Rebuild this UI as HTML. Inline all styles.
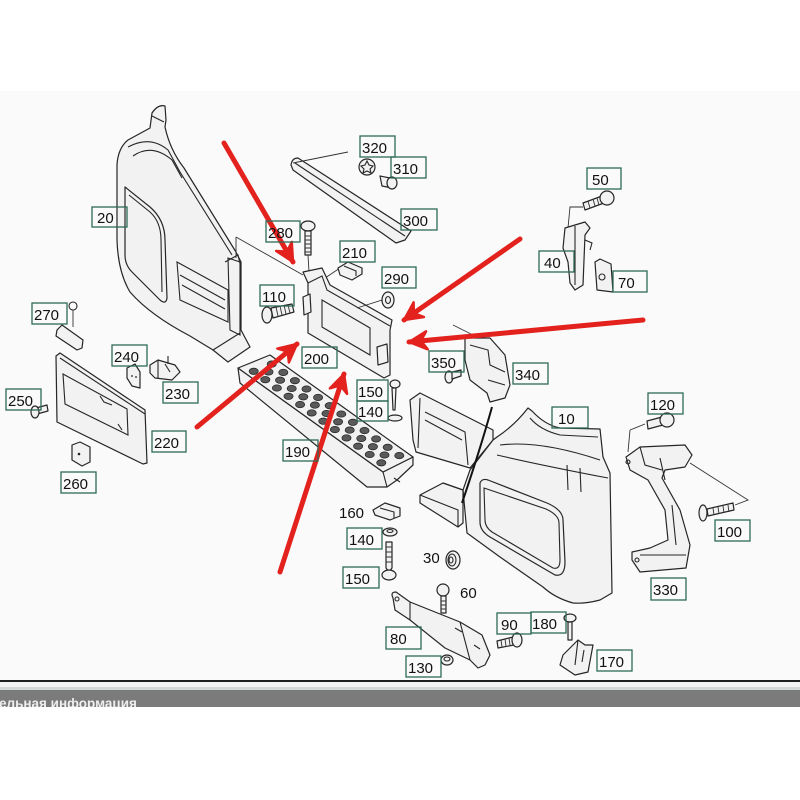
<!DOCTYPE html>
<html><head><meta charset="utf-8"><style>
html,body{margin:0;padding:0;background:#fff}
svg{display:block}
.l{fill:none;stroke:#2e6b55;stroke-width:1.3}
.t{font-family:"Liberation Sans",Arial,sans-serif;font-size:15px;fill:#111}
.p{fill:#f2f2f2;stroke:#262626;stroke-width:1.2;stroke-linejoin:round}
.n{fill:none;stroke:#262626;stroke-width:1.1}
.k{fill:none;stroke:#333;stroke-width:0.9}
.h{fill:#5a5a5a;stroke:#222;stroke-width:0.7}
.a{stroke:#e3221e;stroke-width:5;stroke-linecap:round;fill:none}
</style></head><body>
<svg width="800" height="800" viewBox="0 0 800 800" xmlns="http://www.w3.org/2000/svg">
<defs>
<marker id="ah" viewBox="0 0 24 24" refX="21" refY="12" markerWidth="24" markerHeight="24" orient="auto" markerUnits="userSpaceOnUse">
<path d="M3,3 L21,12 L3,21 L9,12 Z" fill="#e3221e" stroke="#e3221e" stroke-width="2.5" stroke-linejoin="round"/>
</marker>
</defs>
<rect x="0" y="0" width="800" height="800" fill="#fff"/>
<rect x="0" y="91" width="800" height="589" fill="#fafafa"/>

<!-- Part 20 left end -->
<path class="p" d="M150,128 L152,113 Q158,104 165,106 L166,120 L165,127 Q170,150 184,168 L236,252 L241,262 L241,330 L250,347 L228,362 L213,350 L190,336 Q150,315 130,292 Q118,272 117,240 L117,165 Q118,148 128,140 Z"/>
<path class="n" d="M152,116 L164,122 M128,147 Q150,135 168,150 L180,172 L232,255 M133,156 Q152,143 172,160 L182,178"/>
<path class="p" d="M125,187 L150,207 Q165,220 165,240 L167,298 Q166,305 160,300 L132,272 Q125,265 125,255 Z"/>
<path class="n" d="M129,195 L150,212 Q161,222 161,240 L162,292"/>
<path class="n" d="M177,262 L228,290 L228,322 L180,300 Z M180,275 L225,300 M182,285 L225,309"/>
<path class="n" d="M213,350 L240,333 M228,258 L240,262 L240,335 L230,330 Z M225,262 L238,255 L241,268"/>
<path class="k" d="M236,237 L236,258 M236,237 L303,275"/>

<!-- Part 300 strip, 320, 310 -->
<path class="p" d="M291,165 Q292,158 298,158 L411,231 L405,240 L396,243 L293,170 Z"/>
<path class="n" d="M295,163 L405,236"/>
<path class="k" d="M293,163 L348,152"/>
<circle class="p" cx="367" cy="167" r="8"/>
<path class="n" d="M367,161 L369,165 L373,166 L370,169 L371,173 L367,171 L363,173 L364,169 L361,166 L365,165 Z"/>
<path class="p" d="M380,176 L390,178 L392,188 L382,186 Z"/>
<ellipse class="p" cx="392" cy="183" rx="5" ry="6"/>

<!-- 280 screw -->
<ellipse class="p" cx="308" cy="226" rx="7" ry="5"/>
<path class="p" d="M305,231 L311,231 L311,255 L305,255 Z"/>
<path class="k" d="M305,236 L311,236 M305,240 L311,240 M305,244 L311,244 M305,248 L311,248 M305,252 L311,252 M308,255 L309,272"/>

<!-- 210 clip -->
<path class="k" d="M325,278 L340,268"/>
<path class="p" d="M338,268 L348,262 L362,268 L362,274 L352,280 L340,275 Z"/>
<path class="n" d="M344,266 L356,271 L356,276"/>

<!-- 200 bracket -->
<path class="p" d="M303,272 L322,268 L330,285 L392,320 L390,330 L390,375 L384,378 L308,333 L308,283 Z"/>
<path class="n" d="M308,283 L322,276 L327,290 L390,326 M322,300 L370,328 L370,355 L322,327 Z"/>
<path class="p" d="M303,297 L310,294 L311,312 L304,315 Z M377,347 L387,344 L388,362 L378,365 Z"/>

<!-- 290 washer -->
<path class="k" d="M357,308 L382,300"/>
<ellipse class="p" cx="388" cy="300" rx="6" ry="8"/>
<ellipse class="n" cx="388" cy="300" rx="2.5" ry="3.5"/>

<!-- 110 screw -->
<path class="p" d="M271,308 L292,304 L294,312 L273,318 Z"/>
<path class="k" d="M276,307 L278,316 M280,306 L282,315 M284,305 L286,314 M288,305 L290,313"/>
<ellipse class="p" cx="267" cy="315" rx="5" ry="8"/>

<!-- Step 190 -->
<path class="p" d="M238,368 L240,383 L367,487 L387,487 L397,480 L413,465 L413,457 L383,472 Z"/>
<path class="p" d="M238,368 L270,355 L413,457 L383,472 Z"/>
<path class="n" d="M383,472 L387,487 M394,478 L400,482"/>
<g class="h">
<ellipse cx="253.7" cy="371.3" rx="4.6" ry="3.2"/><ellipse cx="265.3" cy="379.7" rx="4.6" ry="3.2"/><ellipse cx="276.9" cy="388" rx="4.6" ry="3.2"/><ellipse cx="288.5" cy="396.3" rx="4.6" ry="3.2"/><ellipse cx="300.1" cy="404.6" rx="4.6" ry="3.2"/><ellipse cx="311.7" cy="412.9" rx="4.6" ry="3.2"/><ellipse cx="323.3" cy="421.2" rx="4.6" ry="3.2"/><ellipse cx="334.9" cy="429.6" rx="4.6" ry="3.2"/><ellipse cx="346.5" cy="437.9" rx="4.6" ry="3.2"/><ellipse cx="358.1" cy="446.2" rx="4.6" ry="3.2"/><ellipse cx="369.7" cy="454.5" rx="4.6" ry="3.2"/><ellipse cx="381.3" cy="462.8" rx="4.6" ry="3.2"/>
<ellipse cx="268.5" cy="371.9" rx="4.6" ry="3.2"/><ellipse cx="280.1" cy="380.2" rx="4.6" ry="3.2"/><ellipse cx="291.7" cy="388.5" rx="4.6" ry="3.2"/><ellipse cx="303.3" cy="396.8" rx="4.6" ry="3.2"/><ellipse cx="314.9" cy="405.1" rx="4.6" ry="3.2"/><ellipse cx="326.5" cy="413.5" rx="4.6" ry="3.2"/><ellipse cx="338.1" cy="421.8" rx="4.6" ry="3.2"/><ellipse cx="349.7" cy="430.1" rx="4.6" ry="3.2"/><ellipse cx="361.3" cy="438.4" rx="4.6" ry="3.2"/><ellipse cx="372.9" cy="446.7" rx="4.6" ry="3.2"/><ellipse cx="384.5" cy="455" rx="4.6" ry="3.2"/>
<ellipse cx="271.7" cy="364.1" rx="4.6" ry="3.2"/><ellipse cx="283.3" cy="372.4" rx="4.6" ry="3.2"/><ellipse cx="294.9" cy="380.7" rx="4.6" ry="3.2"/><ellipse cx="306.5" cy="389" rx="4.6" ry="3.2"/><ellipse cx="318.1" cy="397.4" rx="4.6" ry="3.2"/><ellipse cx="329.7" cy="405.7" rx="4.6" ry="3.2"/><ellipse cx="341.3" cy="414" rx="4.6" ry="3.2"/><ellipse cx="352.9" cy="422.3" rx="4.6" ry="3.2"/><ellipse cx="364.5" cy="430.6" rx="4.6" ry="3.2"/><ellipse cx="376.1" cy="438.9" rx="4.6" ry="3.2"/><ellipse cx="387.7" cy="447.3" rx="4.6" ry="3.2"/><ellipse cx="399.3" cy="455.6" rx="4.6" ry="3.2"/>
</g>

<!-- upper 150/140 screw -->
<ellipse class="p" cx="395" cy="384" rx="5" ry="4"/>
<path class="p" d="M392,388 L396,388 L395,410 L393,410 Z"/>
<ellipse class="p" cx="395" cy="418" rx="7" ry="3"/>

<!-- Part 10 right end -->
<path class="p" d="M410,400 L420,393 L493,430 L493,440 L470,468 L416,452 L413,440 Z"/>
<path class="n" d="M420,398 L418,448 M425,412 L465,432 L468,465 M425,420 L462,440"/>
<path class="p" d="M497,437 Q515,425 528,408 L532,411 Q545,425 560,428 L600,429 L603,457 L610,473 L612,593 L600,600 Q585,604 573,603 Q555,598 543,587 L500,557 L467,533 L463,490 L470,470 L493,440 Z"/>
<path class="n" d="M500,445 Q540,440 600,460 M497,455 Q540,465 608,478 M567,465 L568,490 M580,468 L581,492 M530,418 Q540,430 560,435 L598,437"/>
<path class="p" d="M420,495 L443,483 L463,490 L463,523 L458,527 L420,503 Z"/>
<path class="n" d="M420,495 L458,510 L458,527 M443,483 L463,490"/>
<path class="p" d="M480,483 Q482,478 488,480 L547,503 Q563,510 563,520 L565,562 Q565,577 555,575 L490,537 Q480,531 480,522 Z"/>
<path class="n" d="M484,488 L546,509 Q559,515 559,523 L560,560 Q560,570 553,568 L492,532 Q485,527 485,520 Z"/>
<path d="M492,407 Q480,450 462,503" fill="none" stroke="#111" stroke-width="2"/>

<!-- 340, 350 -->
<path class="k" d="M453,325 L473,335"/>
<path class="p" d="M465,338 L490,338 L505,355 L510,385 L505,398 L490,402 L487,393 L470,380 L465,360 Z"/>
<path class="n" d="M470,345 L488,350 L490,365 L505,372 M488,380 L505,385"/>
<ellipse class="p" cx="449" cy="377" rx="4" ry="6"/>
<path class="p" d="M452,372 L461,370 L461,376 L452,379 Z"/>

<!-- 50, 40, 70 -->
<path class="k" d="M583,207 L570,207 L568,228"/>
<path class="p" d="M583,203 L602,196 L604,203 L585,210 Z"/>
<path class="k" d="M588,201 L590,208 M593,199 L595,206 M597,198 L599,205"/>
<circle class="p" cx="607" cy="198" r="7"/>
<path class="p" d="M565,228 L585,222 L590,228 L585,235 L583,285 L575,290 L570,283 L568,262 L563,248 Z"/>
<path class="n" d="M575,226 L575,285 M585,240 L592,243 L590,250"/>
<path class="p" d="M595,262 L600,259 L611,264 L613,292 L597,290 Z"/>
<circle class="n" cx="602" cy="277" r="3"/>

<!-- 120, 330, 100 -->
<path class="k" d="M630,430 L628,452 M630,430 L645,424"/>
<path class="p" d="M647,421 L662,417 L663,425 L648,429 Z"/>
<circle class="p" cx="667" cy="420" r="7"/>
<path class="p" d="M626,457 L640,447 L685,445 L692,455 L685,467 L665,470 L662,478 L680,510 L690,545 L686,568 L640,572 L632,560 L632,552 L650,548 L668,540 L665,510 L648,480 L630,470 Z"/>
<path class="n" d="M640,447 L645,465 L662,470 M660,458 L665,480 M640,555 L686,555 M672,505 L676,545"/>
<circle class="n" cx="628" cy="462" r="2"/>
<circle class="n" cx="637" cy="560" r="2"/>
<path class="k" d="M690,463 L748,500 L735,505"/>
<path class="p" d="M707,509 L733,503 L734,510 L708,516 Z"/>
<path class="k" d="M713,508 L714,515 M718,507 L719,514 M723,506 L724,513 M728,505 L729,512"/>
<ellipse class="p" cx="703" cy="513" rx="4" ry="8"/>

<!-- 160, 140, 150 lower -->
<path class="p" d="M373,510 L385,503 L400,508 L400,516 L390,520 L375,515 Z"/>
<path class="n" d="M380,508 L394,512 L394,518"/>
<ellipse class="p" cx="390" cy="532" rx="7" ry="4"/>
<ellipse class="n" cx="390" cy="531" rx="3" ry="1.5"/>
<path class="p" d="M386,542 L392,542 L392,568 L389,572 L386,568 Z"/>
<path class="k" d="M386,547 L392,547 M386,552 L392,552 M386,557 L392,557 M386,562 L392,562"/>
<ellipse class="p" cx="389" cy="575" rx="7" ry="5"/>

<!-- 30, 60, 80, 130, 90, 180, 170 -->
<ellipse class="p" cx="453" cy="560" rx="7" ry="9"/>
<ellipse class="n" cx="452" cy="560" rx="4" ry="6"/>
<ellipse class="n" cx="451" cy="560" rx="2" ry="3"/>
<circle class="p" cx="443" cy="590" r="6"/>
<path class="p" d="M441,596 L446,596 L446,613 L441,613 Z"/>
<path class="k" d="M441,601 L446,601 M441,605 L446,605 M441,609 L446,609"/>
<path class="p" d="M393,598 Q390,592 396,592 L410,602 L460,622 L482,635 L490,655 L485,665 L478,668 L470,660 L445,648 L410,620 L395,610 Z"/>
<path class="n" d="M410,602 L410,620 M460,622 L470,660 M455,628 L462,632 M474,645 L480,649"/>
<circle class="n" cx="397" cy="599" r="2"/>
<ellipse class="p" cx="447" cy="660" rx="6" ry="5"/>
<ellipse class="n" cx="447" cy="659" rx="3" ry="2"/>
<path class="p" d="M497,641 L513,637 L514,645 L498,648 Z"/>
<path class="k" d="M501,640 L502,647 M505,639 L506,646 M509,638 L510,645"/>
<ellipse class="p" cx="517" cy="640" rx="5" ry="7"/>
<ellipse class="p" cx="570" cy="618" rx="6" ry="4"/>
<path class="p" d="M568,622 L572,622 L572,640 L568,640 Z"/>
<path class="p" d="M563,655 L578,640 L585,645 L593,645 L588,672 L575,675 L560,665 Z"/>
<path class="n" d="M578,640 L575,665 M584,650 L582,662"/>

<!-- left small parts -->
<circle class="n" cx="73" cy="306" r="4"/>
<path class="k" d="M73,310 L73,327"/>
<path class="p" d="M57,330 L62,325 L83,340 L82,348 L77,350 L56,336 Z"/>
<path class="p" d="M127,368 L135,364 L140,372 L140,388 L132,386 L127,378 Z"/>
<circle cx="132" cy="376" r="0.9" fill="#222"/><circle cx="136" cy="377" r="0.9" fill="#222"/>
<path class="p" d="M150,365 L158,360 L175,365 L180,372 L172,380 L155,378 L150,373 Z"/>
<path class="n" d="M158,360 L158,378 M165,364 L170,372 M168,356 L168,364"/>
<path class="p" d="M36,408 L47,405 L48,411 L37,414 Z"/>
<ellipse class="p" cx="35" cy="412" rx="4" ry="6"/>
<path class="p" d="M72,445 L80,442 L90,447 L90,462 L82,466 L72,460 Z"/>
<circle cx="79" cy="454" r="1.3" fill="#222"/>
<path class="p" d="M56,356 L60,353 L145,410 L147,463 L143,464 L57,422 Z"/>
<path class="n" d="M60,358 L145,414 M63,374 L127,409 L128,435 L65,404 Z M100,396 L104,402 L112,405 M118,424 L122,430"/>

<!-- red arrows -->
<line class="a" x1="224" y1="143" x2="293" y2="262" marker-end="url(#ah)"/>
<line class="a" x1="520" y1="239" x2="404" y2="320" marker-end="url(#ah)"/>
<line class="a" x1="643" y1="320" x2="409" y2="342" marker-end="url(#ah)"/>
<line class="a" x1="197" y1="427" x2="297" y2="344" marker-end="url(#ah)"/>
<line class="a" x1="280" y1="572" x2="344" y2="374" marker-end="url(#ah)"/>

<!-- label boxes -->
<g class="l">
<rect x="92" y="207" width="35" height="20"/>
<rect x="266" y="221" width="34" height="21"/>
<rect x="340" y="241" width="35" height="21"/>
<rect x="382" y="267" width="34" height="21"/>
<rect x="260" y="285" width="34" height="21"/>
<rect x="302" y="347" width="35" height="21"/>
<rect x="32" y="303" width="35" height="21"/>
<rect x="112" y="345" width="35" height="21"/>
<rect x="163" y="382" width="35" height="21"/>
<rect x="6" y="389" width="35" height="21"/>
<rect x="152" y="431" width="34" height="21"/>
<rect x="61" y="472" width="35" height="21"/>
<rect x="283" y="440" width="35" height="21"/>
<rect x="357" y="380" width="31" height="21"/>
<rect x="357" y="401" width="31" height="20"/>
<rect x="347" y="528" width="35" height="21"/>
<rect x="343" y="567" width="36" height="21"/>
<rect x="386" y="627" width="35" height="22"/>
<rect x="406" y="656" width="35" height="21"/>
<rect x="497" y="613" width="34" height="21"/>
<rect x="531" y="612" width="35" height="21"/>
<rect x="597" y="650" width="35" height="21"/>
<rect x="651" y="578" width="35" height="22"/>
<rect x="715" y="520" width="35" height="21"/>
<rect x="648" y="393" width="35" height="21"/>
<rect x="552" y="407" width="36" height="21"/>
<rect x="513" y="363" width="35" height="21"/>
<rect x="429" y="351" width="35" height="21"/>
<rect x="539" y="251" width="35" height="21"/>
<rect x="613" y="271" width="34" height="21"/>
<rect x="587" y="168" width="34" height="21"/>
<rect x="401" y="209" width="36" height="21"/>
<rect x="391" y="157" width="35" height="21"/>
<rect x="360" y="136" width="35" height="21"/>
</g>
<g class="t">
<text x="97" y="223">20</text>
<text x="268" y="238">280</text>
<text x="342" y="258">210</text>
<text x="384" y="284">290</text>
<text x="262" y="302">110</text>
<text x="304" y="364">200</text>
<text x="34" y="320">270</text>
<text x="114" y="362">240</text>
<text x="165" y="399">230</text>
<text x="8" y="406">250</text>
<text x="154" y="448">220</text>
<text x="63" y="489">260</text>
<text x="285" y="457">190</text>
<text x="358" y="397">150</text>
<text x="358" y="417">140</text>
<text x="349" y="545">140</text>
<text x="345" y="584">150</text>
<text x="390" y="644">80</text>
<text x="408" y="673">130</text>
<text x="501" y="630">90</text>
<text x="532" y="629">180</text>
<text x="599" y="667">170</text>
<text x="653" y="595">330</text>
<text x="717" y="537">100</text>
<text x="650" y="410">120</text>
<text x="558" y="424">10</text>
<text x="515" y="380">340</text>
<text x="431" y="368">350</text>
<text x="544" y="268">40</text>
<text x="618" y="288">70</text>
<text x="592" y="185">50</text>
<text x="403" y="226">300</text>
<text x="393" y="174">310</text>
<text x="362" y="153">320</text>
<text x="339" y="518">160</text>
<text x="423" y="563">30</text>
<text x="460" y="598">60</text>
</g>

<!-- bottom bar -->
<rect x="0" y="680" width="800" height="2" fill="#1e1e1e"/>
<rect x="0" y="682" width="800" height="5" fill="#f3f3f3"/>
<rect x="0" y="687" width="800" height="3" fill="#d4d8d7"/>
<rect x="0" y="690" width="800" height="17" fill="#7b7b7b"/>
<svg x="0" y="690" width="800" height="17" overflow="hidden">
<text x="-1" y="18" font-family="'Liberation Sans',Arial,sans-serif" font-size="13.5" font-weight="bold" fill="#efefef">ельная информация</text>
</svg>
</svg>
</body></html>
